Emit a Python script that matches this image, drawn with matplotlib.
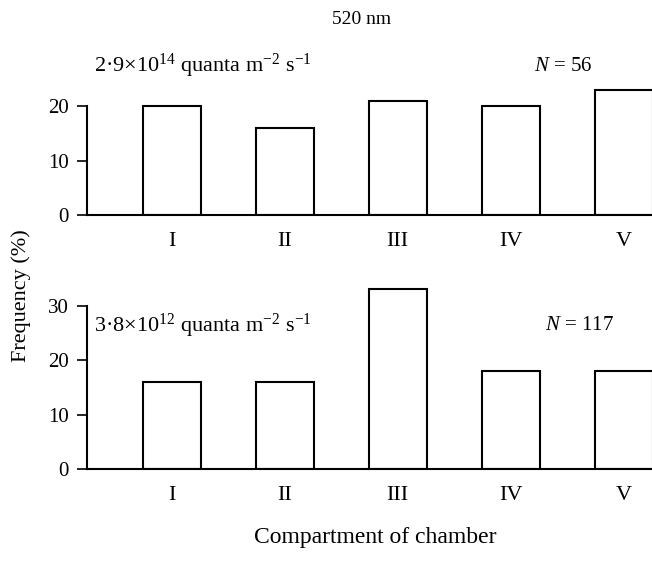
import matplotlib

matplotlib.use("Agg")

import matplotlib.pyplot as plt

compartments = ["I", "II", "III", "IV", "V"]
freq_high = [20, 16, 21, 20, 23]     # 2.9e14 quanta, N = 56
freq_low = [16, 16, 33, 18, 18]      # 3.8e12 quanta, N = 117
label_high = r"2·9×10$^{14}$ quanta m$^{-2}$ s$^{-1}$"
label_low = r"3·8×10$^{12}$ quanta m$^{-2}$ s$^{-1}$"
n_high = "$N$ = 56"
n_low = "$N$ = 117"

plt.rcParams["font.family"] = "Liberation Serif"
plt.rcParams["mathtext.fontset"] = "custom"
plt.rcParams["mathtext.rm"] = "Liberation Serif"
plt.rcParams["mathtext.it"] = "Liberation Serif:italic"

W, H = 652, 569
fig = plt.figure(figsize=(W / 100, H / 100), dpi=100)

left = 87 / W
width = (W - 87) / W
scale = 5.45  # px per percent
ax_top = fig.add_axes([left, (H - 215) / H, width, 28 * scale / H])
ax_bot = fig.add_axes([left, (H - 469) / H, width, 34 * scale / H])

x = list(range(len(compartments)))


def style(ax, values, ymax, ticks, top_label, n_label, text_y, n_x):
    ax.bar(x, values, width=0.51, color="white", edgecolor="black", linewidth=1.5)
    ax.set_xlim(-0.75, 4.25)
    ax.set_ylim(0, ymax)
    ax.set_yticks(ticks)
    ax.spines["left"].set_bounds(0, ticks[-1])
    for s in ("top", "right"):
        ax.spines[s].set_visible(False)
    for s in ("left", "bottom"):
        ax.spines[s].set_linewidth(1.5)
    ax.set_xticks(x)
    ax.set_xticklabels(compartments)
    ax.tick_params(axis="x", length=0, pad=12, labelsize=16)
    ax.tick_params(axis="y", length=7, width=1.2, direction="out", pad=6, labelsize=15)
    ax.patch.set_visible(False)
    ax.text(-0.69, text_y, top_label, fontsize=16, va="center", ha="left")
    ax.text(n_x, text_y, n_label, fontsize=15, va="center", ha="left")


style(ax_top, freq_high, 28, [0, 10, 20], label_high, n_high, 27.3, 3.21)
style(ax_bot, freq_low, 34, [0, 10, 20, 30], label_low, n_low, 26.3, 3.30)

fig.text(362 / W, 1 - 20 / H, "520 nm", ha="center", va="center", fontsize=14)
fig.text(375 / W, 1 - 537 / H, "Compartment of chamber", ha="center", va="center", fontsize=17)
fig.text(21 / W, 1 - 296 / H, "Frequency (%)", ha="center", va="center",
         rotation=90, fontsize=16)

fig.savefig("out.png", dpi=100)
plt.close(fig)
